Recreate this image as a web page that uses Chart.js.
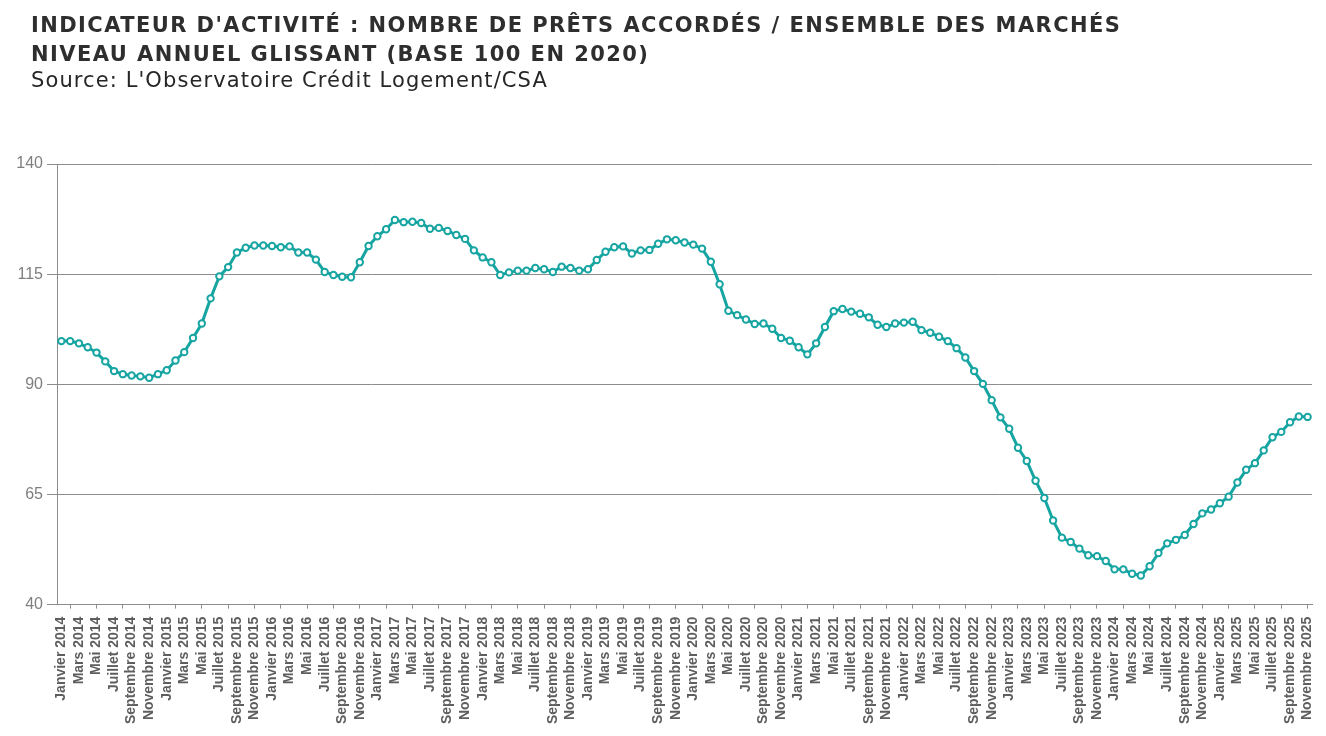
<!DOCTYPE html>
<html>
<head>
<meta charset="utf-8">
<script src="https://cdn.jsdelivr.net/npm/chart.js@4"></script>
<style>
  html, body { margin: 0; padding: 0; background: #fff; }
  #wrap { width: 1326px; height: 736px; position: relative; }
  .title {
    position: absolute; left: 31px; top: 11px; margin: 0;
    font-family: "DejaVu Sans", Verdana, sans-serif; font-size: 21px; font-weight: bold;
    line-height: 29px; letter-spacing: 1.43px; color: #2e2e2e; white-space: nowrap;
  }
  .source {
    position: absolute; left: 31px; top: 65.5px; margin: 0;
    font-family: "DejaVu Sans", Verdana, sans-serif; font-size: 21px; font-weight: normal;
    line-height: 29px; letter-spacing: 1.1px; color: #262626; white-space: nowrap;
  }
</style>
</head>
<body>
<div id="wrap">
  <canvas id="myChart"></canvas>
  <div class="title">INDICATEUR D'ACTIVITÉ : NOMBRE DE PRÊTS ACCORDÉS / ENSEMBLE DES MARCHÉS<br>NIVEAU ANNUEL GLISSANT (BASE 100 EN 2020)</div>
  <div class="source">Source: L'Observatoire Crédit Logement/CSA</div>
</div>
<script>
const monthNames = ["Janvier", "Février", "Mars", "Avril", "Mai", "Juin",
  "Juillet", "Août", "Septembre", "Octobre", "Novembre", "Décembre"];
const years = [2014, 2015, 2016, 2017, 2018, 2019, 2020, 2021, 2022, 2023, 2024, 2025];
const monthsInLastYear = 11; // jusqu'à novembre 2025

const yTicks = [40, 65, 90, 115, 140];

// indice (base 100 en 2020), janvier 2014 -> novembre 2025
const values = [
  99.8, 99.8, 99.3, 98.4, 97.2, 95.2, 93.0, 92.3, 92.0, 91.8, 91.5, 92.3,
  93.2, 95.4, 97.3, 100.5, 103.8, 109.5, 114.5, 116.6, 119.9, 121.0, 121.5, 121.5,
  121.4, 121.1, 121.3, 119.9, 119.9, 118.3, 115.5, 114.8, 114.4, 114.3, 117.7, 121.4,
  123.6, 125.2, 127.3, 126.8, 126.9, 126.6, 125.3, 125.5, 124.8, 123.9, 123.0, 120.4,
  118.8, 117.7, 114.8, 115.4, 115.8, 115.8, 116.4, 116.1, 115.5, 116.7, 116.4, 115.8,
  116.1, 118.2, 120.1, 121.1, 121.3, 119.7, 120.4, 120.5, 121.9, 122.9, 122.7, 122.2,
  121.7, 120.8, 117.8, 112.7, 106.7, 105.7, 104.7, 103.7, 103.8, 102.6, 100.5, 99.9,
  98.4, 96.8, 99.3, 103.0, 106.6, 107.1, 106.5, 106.0, 105.2, 103.5, 103.0, 103.8,
  104.0, 104.2, 102.3, 101.7, 100.8, 99.8, 98.2, 96.1, 93.0, 90.1, 86.4, 82.5,
  79.9, 75.6, 72.6, 68.1, 64.2, 59.1, 55.2, 54.2, 52.7, 51.2, 51.0, 49.9,
  48.0, 48.0, 47.0, 46.6, 48.7, 51.7, 53.9, 54.7, 55.8, 58.3, 60.7, 61.6,
  63.0, 64.5, 67.7, 70.6, 72.1, 75.0, 78.0, 79.2, 81.4, 82.7, 82.6
];

const labels = [];
years.forEach((y, yi) => {
  const n = yi === years.length - 1 ? monthsInLastYear : 12;
  monthNames.slice(0, n).forEach((m) => labels.push(m + " " + y));
});

const teal = "#17a5a2";
const gridGray = "#8c8c8c";

const ctx = document.getElementById("myChart").getContext("2d");
const myLineChart = new Chart(ctx, {
  type: "line",
  data: {
    labels: labels,
    datasets: [
      {
        label: "Nombre de prêts accordés",
        data: values,
        borderColor: teal,
        borderWidth: 3,
        pointBackgroundColor: "#ffffff",
        pointBorderColor: teal,
        pointBorderWidth: 2,
        pointRadius: 3.2,
        tension: 0,
      },
    ],
  },
  options: {
    responsive: true,
    maintainAspectRatio: false,
    animation: false,
    layout: { padding: { left: 16, right: 14, bottom: 4, top: 164 } },
    plugins: {
      legend: { display: false },
      tooltip: { enabled: false },
    },
    scales: {
      x: {
        offset: true,
        afterFit: (scale) => { scale.paddingRight = 0; scale.paddingLeft = 0; },
        grid: {
          display: true,
          offset: false,
          drawOnChartArea: false,
          tickLength: 4,
          color: (c) => (c.index % 3 === 1 ? gridGray : "rgba(0,0,0,0)"),
        },
        border: { display: true, color: gridGray },
        ticks: {
          autoSkip: false,
          maxRotation: 90,
          minRotation: 90,
          padding: 8,
          color: "#5e5e5e",
          font: { family: "'Liberation Sans'", size: 14, weight: "bold" },
          callback: function (val, index) {
            return index % 2 === 0 ? this.getLabelForValue(val) : "";
          },
        },
      },
      y: {
        min: 40,
        max: 140,
        afterFit: (scale) => { scale.width = 41; },
        afterBuildTicks: (scale) => {
          scale.ticks = yTicks.map((v) => ({ value: v }));
        },
        grid: { color: gridGray, tickLength: 10 },
        border: { display: true, color: gridGray },
        ticks: {
          padding: 4,
          color: "#7f7f7f",
          font: { family: "'Liberation Sans'", size: 16 },
        },
      },
    },
  },
});
</script>
</body>
</html>
